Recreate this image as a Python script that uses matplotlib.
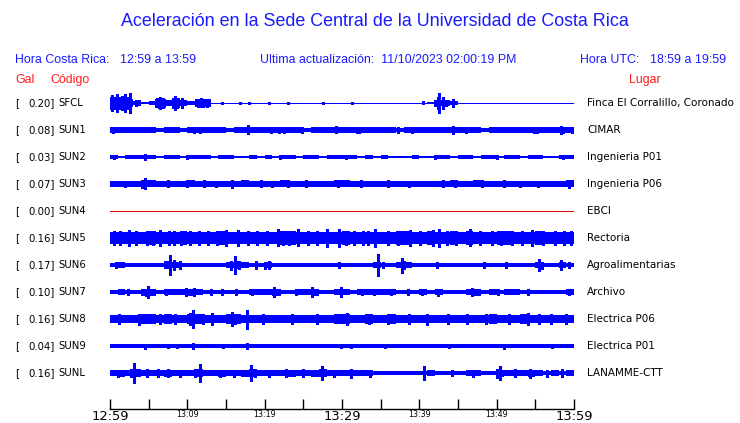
import numpy as np
import matplotlib
matplotlib.use("Agg")
import matplotlib.pyplot as plt

# ---------------- data ----------------
title = "Aceleración en la Sede Central de la Universidad de Costa Rica"
hora_cr = "12:59 a 13:59"
hora_utc = "18:59 a 19:59"
actualizacion = "11/10/2023 02:00:19 PM"

codes = ["SFCL", "SUN1", "SUN2", "SUN3", "SUN4", "SUN5", "SUN6", "SUN7", "SUN8", "SUN9", "SUNL"]
gal = [0.20, 0.08, 0.03, 0.07, 0.00, 0.16, 0.17, 0.10, 0.16, 0.04, 0.16]
places = ["Finca El Corralillo, Coronado", "CIMAR", "Ingenieria P01", "Ingenieria P06", "EBCI",
          "Rectoria", "Agroalimentarias", "Archivo", "Electrica P06", "Electrica P01", "LANAMME-CTT"]

# minute marks of the time axis (minutes after 12:59) and their labels
tick_minutes = [0, 5, 10, 15, 20, 25, 30, 35, 40, 45, 50, 55, 60]
tick_labels = ["12:59", "", "13:09", "", "13:19", "", "13:29", "", "13:39", "", "13:49", "", "13:59"]
big_labels = ["12:59", "13:29", "13:59"]

# per-minute envelope (half amplitude, display units) of each trace
band_sfcl = [3.5, 3.5, 3.0, 1.2, 0.7, 1.2, 3.5, 2.0, 3.5, 2.0, 1.5, 3.0, 3.0, 0.0, 0.0, 0.0, 0.0, 0.0, 0.0, 0.0,
             0.0, 0.0, 0.0, 0.0, 0.0, 0.0, 0.0, 0.0, 0.0, 0.0, 0.0, 0.0, 0.0, 0.0, 0.0, 0.0, 0.0, 0.0, 0.0, 0.0,
             0.0, 1.0, 2.0, 2.0, 1.5, 0.0, 0.0, 0.0, 0.0, 0.0, 0.0, 0.0, 0.0, 0.0, 0.0, 0.0, 0.0, 0.0, 0.0, 0.0]
band_sun1 = [1.8, 1.8, 1.8, 1.8, 1.8, 1.8, 1.6, 1.8, 1.8, 1.6, 1.8, 1.8, 1.8, 1.8, 1.8, 1.6, 1.8, 1.8, 1.8, 1.8,
             1.9, 1.8, 1.8, 1.8, 1.8, 1.7, 1.8, 1.8, 1.8, 1.9, 1.8, 1.8, 1.8, 1.8, 1.8, 1.8, 1.8, 1.7, 1.8, 1.8,
             1.8, 1.8, 1.8, 1.8, 1.9, 1.8, 1.8, 1.8, 1.7, 1.8, 1.8, 1.8, 1.8, 1.8, 1.8, 1.9, 1.8, 1.8, 1.9, 1.9]
band_sun2 = [1.3, 1.0, 1.3, 1.3, 1.3, 1.3, 0.9, 1.3, 1.3, 1.0, 1.3, 1.3, 1.3, 0.9, 1.3, 1.3, 1.0, 0.9, 1.3, 0.9,
             1.3, 1.0, 1.3, 1.3, 0.9, 1.3, 1.3, 0.9, 1.3, 1.3, 1.3, 1.3, 1.0, 1.3, 0.9, 1.3, 0.9, 0.9, 0.8, 1.3,
             0.8, 0.9, 1.3, 1.3, 0.9, 1.3, 1.3, 1.0, 1.3, 1.3, 0.9, 1.3, 1.3, 1.0, 1.3, 1.3, 0.9, 0.8, 1.3, 1.3]
band_sun3 = [2.0, 2.2, 2.0, 2.0, 2.5, 2.5, 2.0, 2.2, 2.0, 2.2, 2.5, 2.0, 2.2, 2.0, 2.0, 2.2, 2.0, 2.5, 2.0, 2.2,
             2.0, 2.0, 2.5, 2.2, 2.0, 2.2, 2.0, 2.0, 2.0, 2.5, 2.5, 2.2, 2.0, 2.0, 2.0, 2.0, 2.2, 2.0, 2.0, 2.0,
             2.0, 2.2, 2.0, 2.0, 2.5, 2.2, 2.0, 2.5, 2.2, 2.0, 2.2, 2.2, 2.0, 2.0, 2.2, 2.0, 2.0, 2.0, 2.2, 2.5]
band_sun4 = [0.0] * 60
band_sun5 = [4.5, 4.2, 4.5, 4.0, 4.5, 4.8, 4.5, 4.2, 4.5, 5.0, 4.5, 4.0, 4.5, 4.2, 4.8, 4.5, 4.0, 4.2, 4.5, 4.5,
             4.2, 4.5, 5.0, 5.2, 4.5, 4.0, 4.5, 4.2, 4.5, 4.5, 5.0, 4.2, 4.0, 4.5, 4.5, 4.2, 4.0, 4.8, 5.0, 4.5,
             4.5, 4.8, 4.5, 4.2, 4.8, 4.5, 5.0, 4.5, 4.2, 4.5, 4.8, 5.0, 4.5, 4.2, 4.5, 5.0, 4.5, 4.2, 4.0, 4.5]
band_sun6 = [1.6, 1.8, 1.6, 1.6, 1.6, 1.6, 1.6, 2.5, 2.0, 1.6, 1.6, 1.6, 1.6, 1.6, 1.6, 2.0, 2.5, 1.8, 1.6, 1.6,
             2.2, 1.6, 1.6, 1.6, 1.6, 1.6, 1.6, 1.6, 1.6, 1.6, 1.6, 1.6, 1.6, 1.6, 2.0, 1.6, 1.6, 2.2, 1.8, 1.6,
             1.6, 1.6, 1.6, 1.6, 1.6, 1.6, 1.6, 1.6, 1.6, 1.6, 1.6, 1.6, 1.6, 1.6, 1.6, 1.8, 1.6, 1.6, 1.8, 1.6]
band_sun7 = [1.6, 2.0, 1.6, 1.6, 2.5, 2.5, 1.6, 1.8, 2.0, 2.0, 2.5, 2.2, 1.6, 1.6, 1.6, 1.6, 1.6, 1.6, 2.0, 1.8,
             2.0, 2.5, 1.6, 1.6, 1.8, 2.0, 2.5, 1.6, 1.6, 2.0, 2.0, 1.6, 1.8, 2.0, 1.8, 2.0, 2.0, 1.6, 1.6, 1.6,
             2.0, 1.6, 2.0, 1.6, 1.6, 1.6, 2.0, 2.5, 1.6, 1.8, 1.6, 1.8, 2.0, 1.6, 1.6, 1.6, 1.6, 1.6, 1.6, 2.0]
band_sun8 = [3.0, 3.2, 3.0, 3.0, 3.5, 3.5, 3.0, 3.5, 3.0, 3.2, 3.5, 3.5, 3.0, 3.0, 3.2, 3.5, 3.5, 3.0, 3.0, 3.0,
             3.0, 3.0, 2.8, 2.8, 3.0, 3.0, 2.8, 3.0, 3.0, 3.5, 3.5, 3.0, 3.2, 3.5, 3.0, 3.0, 3.5, 3.0, 3.0, 3.2,
             3.0, 3.0, 3.2, 3.0, 3.0, 3.0, 3.2, 3.0, 3.0, 3.5, 3.2, 3.0, 3.0, 3.5, 3.2, 3.0, 3.2, 3.0, 3.0, 3.2]
band_sun9 = [1.3, 1.3, 1.2, 1.3, 1.4, 1.3, 1.3, 1.3, 1.3, 1.2, 1.3, 1.3, 1.3, 1.3, 1.3, 1.2, 1.3, 1.3, 1.3, 1.3,
             1.3, 1.3, 1.2, 1.3, 1.3, 1.3, 1.3, 1.3, 1.2, 1.3, 1.3, 1.3, 1.3, 1.3, 1.3, 1.3, 1.2, 1.3, 1.3, 1.3,
             1.3, 1.2, 1.3, 1.3, 1.3, 1.3, 1.3, 1.2, 1.3, 1.3, 1.3, 1.3, 1.3, 1.3, 1.2, 1.3, 1.3, 1.3, 1.3, 1.4]
band_sunl = [1.8, 2.5, 2.2, 3.0, 2.2, 2.0, 2.2, 2.5, 2.0, 2.2, 2.0, 3.0, 2.2, 2.0, 2.5, 2.0, 2.2, 2.5, 3.0, 2.2,
             2.0, 2.2, 2.0, 2.5, 2.2, 2.0, 2.5, 2.8, 2.0, 2.0, 2.2, 2.0, 2.0, 2.0, 1.5, 1.2, 1.5, 1.2, 1.5, 1.2,
             1.5, 2.0, 1.2, 1.2, 1.2, 1.2, 2.0, 2.2, 1.5, 1.5, 2.5, 2.0, 2.2, 2.2, 2.5, 2.0, 1.5, 2.0, 1.5, 2.2]

# isolated peaks: (minute, half amplitude)
spikes_sfcl = [(0.1, 6), (0.3, 8), (0.6, 6), (0.9, 9), (1.2, 6), (1.5, 7), (1.8, 5), (2.0, 9), (2.3, 6),
               (2.6, 10), (3.3, 3), (3.7, 2.5), (5.9, 4), (6.3, 5), (6.5, 6), (6.8, 5), (7.0, 4), (8.1, 5),
               (8.4, 7), (8.7, 5), (9.3, 5), (11.4, 4), (11.8, 4.5), (12.0, 4), (12.5, 4),
               (14.5, 1.2), (16.8, 1.2), (18.0, 1.2), (20.6, 1.2), (23.0, 1.2), (27.5, 1.2), (31.3, 1.2),
               (40.5, 1.5), (42.0, 3), (42.4, 6), (42.6, 10), (43.0, 6), (43.4, 3), (44.3, 4)]
spikes_sun1 = [(0.4, 3), (10.8, 3), (11.6, 3), (17.9, 4.5), (20.8, 3.2), (21.9, 3), (22.5, 3),
               (24.8, 3), (29.2, 3.5), (31.9, 3.2), (32.2, 3), (37.3, 3), (39.1, 3), (44.4, 4),
               (46.0, 3), (54.8, 3.2), (55.2, 3), (58.3, 3.8), (58.6, 3), (59.7, 3)]
spikes_sun2 = [(0.5, 2), (4.5, 3), (10.0, 2), (22.0, 2), (30.5, 2), (42.0, 2), (50.0, 2), (58.6, 2)]
spikes_sun3 = [(4.5, 5.5), (4.2, 4), (7.5, 3.5), (10.0, 3.5), (12.2, 3.5), (15.8, 4), (19.5, 3.5), (23.0, 3.5),
               (25.3, 3.5), (29.5, 3.5), (32.4, 3.5), (36.0, 3.5), (43.0, 3.5), (44.6, 3.5), (48.1, 3.5),
               (51.0, 3.5), (55.3, 3.3), (59.3, 4), (2.0, 3.3), (13.7, 3.3), (21.0, 3.3), (38.7, 3.3),
               (53.0, 3.3)]
spikes_sun4 = []
spikes_sun5 = [(2.5, 8), (4.8, 7.5), (6.5, 8), (9.2, 7.5), (11.5, 7), (15.0, 8), (16.6, 8), (19.0, 7.5),
               (21.7, 8.5), (23.2, 7.5), (24.3, 8.5), (28.0, 9), (29.6, 9), (31.5, 7.5), (34.3, 9), (38.8, 8),
               (41.8, 8), (42.5, 9), (46.6, 8.5), (49.4, 7.5), (53.3, 7.5), (54.6, 8), (57.5, 7.5),
               (0.5, 7), (1.3, 7), (3.4, 7), (5.6, 7), (7.6, 7), (8.3, 7), (10.3, 7), (12.7, 7), (13.8, 7),
               (17.8, 7), (20.3, 7), (22.4, 7), (25.6, 7), (26.8, 7), (30.5, 7.5), (32.7, 7), (33.4, 7),
               (36.0, 7), (37.2, 7), (40.1, 7), (43.6, 7.5), (44.8, 7), (47.8, 7), (50.5, 7.5), (52.0, 7),
               (56.0, 7), (58.7, 7), (59.6, 7)]
spikes_sun6 = [(0.8, 3), (7.8, 9.5), (8.3, 5), (9.0, 4), (15.6, 4.5), (16.1, 9), (16.7, 4), (18.9, 4),
               (20.1, 3.5), (20.5, 4), (29.6, 3), (34.6, 11), (35.3, 3), (37.7, 7.5), (38.0, 4), (42.3, 3),
               (48.4, 3), (51.2, 3), (55.5, 6), (55.8, 3.5), (58.3, 5), (59.4, 3)]
spikes_sun7 = [(4.9, 6), (4.6, 3.5), (9.8, 4), (10.9, 4), (13.0, 3), (16.3, 3), (21.2, 5), (21.8, 3),
               (26.1, 5), (26.3, 3), (29.9, 5), (32.6, 3), (36.3, 3), (38.5, 3), (42.4, 3.5), (46.8, 4),
               (54.0, 3), (59.4, 3), (2.3, 3), (7.2, 3), (14.5, 3), (18.4, 3), (24.0, 3), (34.2, 3),
               (40.4, 3), (50.2, 3)]
spikes_sun8 = [(3.7, 5.5), (6.5, 5), (10.7, 9), (10.3, 6), (13.2, 6), (15.8, 7), (17.7, 9.5), (16.2, 5),
               (30.6, 6), (33.5, 5), (36.0, 5), (41.0, 5.5), (46.2, 5), (48.6, 5), (54.0, 6), (55.5, 5),
               (57.0, 5), (1.2, 5), (8.4, 5), (12.0, 5), (19.8, 4.8), (23.5, 4.8), (26.8, 4.8), (38.6, 4.8),
               (43.7, 4.8), (51.6, 4.8), (59.0, 4.8)]
spikes_sun9 = [(4.5, 2.5), (7.5, 2.3), (8.6, 2.3), (10.7, 3), (14.6, 2), (17.7, 3), (29.9, 2), (31.2, 2),
               (35.5, 2.2), (43.9, 2), (50.9, 2.5), (57.2, 2)]
spikes_sunl = [(3.1, 10), (2.7, 4), (4.8, 4), (6.2, 4), (7.5, 4), (11.6, 9), (11.0, 4), (14.2, 3.5),
               (18.2, 8), (18.8, 4), (22.8, 4), (25.0, 4), (27.4, 7), (31.1, 4.5), (33.6, 3.5), (40.6, 7),
               (44.2, 3), (50.4, 7), (50.1, 4.5), (52.4, 4), (54.3, 4.5), (58.5, 4), (1.0, 3.5), (9.0, 3.5),
               (16.0, 3.5), (20.5, 3.5), (29.0, 3.5), (47.0, 3.5), (56.5, 3.5)]

bands = [band_sfcl, band_sun1, band_sun2, band_sun3, band_sun4, band_sun5,
         band_sun6, band_sun7, band_sun8, band_sun9, band_sunl]
spikes = [spikes_sfcl, spikes_sun1, spikes_sun2, spikes_sun3, spikes_sun4, spikes_sun5,
          spikes_sun6, spikes_sun7, spikes_sun8, spikes_sun9, spikes_sunl]
trace_colors = ["#0000ff"] * 4 + ["#e00000"] + ["#0000ff"] * 6

# ---------------- figure ----------------
W, H = 740, 423
fig = plt.figure(figsize=(W / 100, H / 100), dpi=100, facecolor="white")

# overlay axes in pixel coordinates for the text layout
ov = fig.add_axes([0, 0, 1, 1])
ov.set_xlim(0, W)
ov.set_ylim(H, 0)
ov.axis("off")

BLUE = "#1a1aff"
RED = "#ff1a1a"
HF = ["Liberation Sans", "DejaVu Sans"]
LF = ["DejaVu Sans"]
HS = 8.9

ov.text(375, 22, title, color=BLUE, fontsize=12.9, family=HF, ha="center", va="center")
ov.text(15, 60, "Hora Costa Rica:", color=BLUE, fontsize=HS, family=HF, va="center")
ov.text(120, 60, hora_cr, color=BLUE, fontsize=HS, family=HF, va="center")
ov.text(260, 60, "Ultima actualización:  " + actualizacion, color=BLUE, fontsize=HS, family=HF, va="center")
ov.text(580, 60, "Hora UTC:", color=BLUE, fontsize=HS, family=HF, va="center")
ov.text(650, 60, hora_utc, color=BLUE, fontsize=HS, family=HF, va="center")
ov.text(15, 80, "Gal", color=RED, fontsize=HS, family=HF, va="center")
ov.text(50, 80, "Código", color=RED, fontsize=HS, family=HF, va="center")
ov.text(629, 80, "Lugar", color=RED, fontsize=HS, family=HF, va="center")

row0, drow = 103, 27
for i, (g, c, p) in enumerate(zip(gal, codes, places)):
    y = row0 + drow * i
    ov.text(15, y, "[", fontsize=7.3, family=LF, va="center")
    ov.text(55, y, f"{g:.2f}]", fontsize=7.3, family=LF, va="center", ha="right")
    ov.text(58, y, c, fontsize=7.3, family=LF, va="center")
    ov.text(587, y, p, fontsize=7.5, family=LF, va="center")

# trace axes: x in minutes, one row per station
x0, x1 = 110, 574
top, bot = row0 - drow / 2, row0 + drow * (len(codes) - 0.5)
ax = fig.add_axes([x0 / W, (H - bot) / H, (x1 - x0) / W, (bot - top) / H])
ax.set_xlim(0, 60)
ax.set_ylim(len(codes) - 0.5, -0.5)
ax.axis("off")
ax.patch.set_alpha(0)

scale = 1.0 / drow
band_gain = 1.4
minutes = np.arange(61)
for i in range(len(codes)):
    col = trace_colors[i]
    ax.plot([0, 60], [i, i], color=col, lw=0.6, antialiased=False, solid_capstyle="butt")
    if max(bands[i]) > 0:
        b = np.array(bands[i] + [bands[i][-1]]) * scale * band_gain
        ax.fill_between(minutes, i - b, i + b, step="post", color=col, lw=0, antialiased=False)
    if spikes[i]:
        t = [s[0] for s in spikes[i]]
        a = np.array([s[1] for s in spikes[i]]) * scale
        ax.vlines(t, i - a, i + a, color=col, lw=1.0, antialiased=False)

# time axis
axis_y = 409
tax = fig.add_axes([x0 / W, (H - axis_y) / H, (x1 - x0) / W, 12 / H])
tax.set_xlim(0, 60)
tax.patch.set_alpha(0)
for s in ["top", "left", "right"]:
    tax.spines[s].set_visible(False)
tax.spines["bottom"].set_linewidth(1.0)
tax.set_yticks([])
tax.set_xticks(tick_minutes)
tax.set_xticklabels(tick_labels, family="DejaVu Sans")
tax.tick_params(axis="x", direction="in", length=7.2, width=1.0, pad=1.0)
for lab in tax.get_xticklabels():
    lab.set_fontsize(9.4 if lab.get_text() in big_labels else 5.8)

fig.savefig("out.png", dpi=100, facecolor="white")
